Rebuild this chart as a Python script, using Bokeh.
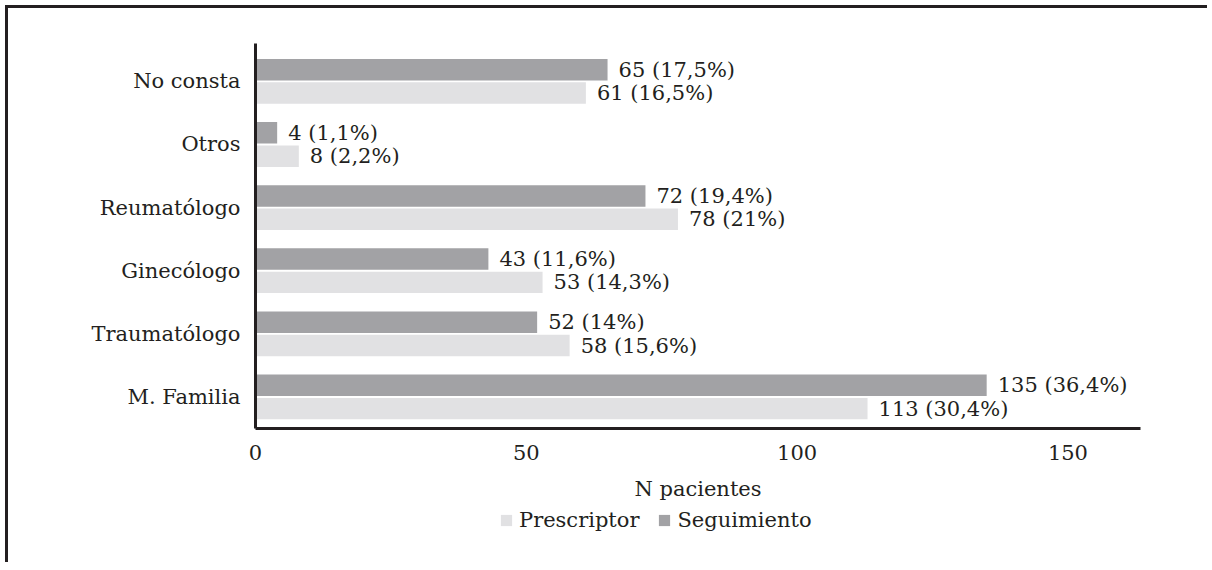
from bokeh.plotting import figure
from bokeh.models import ColumnDataSource, Range1d, FixedTicker, Legend, LegendItem
from bokeh.core.properties import value
from bokeh.embed import file_html
from bokeh.resources import INLINE

# Data (bottom to top)
categories = ["M. Familia", "Traumatólogo", "Ginecólogo", "Reumatólogo", "Otros", "No consta"]
prescriptor = [113, 58, 53, 78, 8, 61]
seguimiento = [135, 52, 43, 72, 4, 65]
prescriptor_pct = ["30,4%", "15,6%", "14,3%", "21%", "2,2%", "16,5%"]
seguimiento_pct = ["36,4%", "14%", "11,6%", "19,4%", "1,1%", "17,5%"]
series_names = ["Prescriptor", "Seguimiento"]
x_ticks = [0, 50, 100, 150]

FONT = "DejaVu Serif"
FS = "21px"
TXT = "#231f20"
DARK = "#a2a2a5"
LIGHT = "#e1e1e3"

idx = list(range(len(categories)))
off = 0.185
h = 0.34

src_p = ColumnDataSource(dict(
    y=[i - off for i in idx], v=prescriptor,
    lab=[f"{a} ({b})" for a, b in zip(prescriptor, prescriptor_pct)]))
src_s = ColumnDataSource(dict(
    y=[i + off for i in idx], v=seguimiento,
    lab=[f"{a} ({b})" for a, b in zip(seguimiento, seguimiento_pct)]))

W = 1202
ML = 247
FW = 885
MR = W - ML - FW
p = figure(width=W, height=495, output_backend="svg", toolbar_location=None,
           x_range=Range1d(0, 163.4), y_range=Range1d(-0.5, 5.6),
           min_border_left=ML, min_border_right=MR, min_border_top=35,
           min_border_bottom=72)
p.outline_line_color = None
p.grid.grid_line_color = None
p.background_fill_color = "white"
p.border_fill_color = "white"
p.styles = {"border-top": "3px solid #231f20", "border-left": "3px solid #231f20",
            "margin-left": "5px", "margin-top": "5px"}

p.hbar(y="y", right="v", left=0, height=h, source=src_s,
       fill_color=DARK, line_color=None)
p.hbar(y="y", right="v", left=0, height=h, source=src_p,
       fill_color=LIGHT, line_color=None)

for src in (src_s, src_p):
    p.text(x="v", y="y", text="lab", source=src, x_offset=11,
           text_baseline="middle", text_align="left",
           text_font=value(FONT), text_font_size=FS, text_color=TXT)

# axes
yax = p.yaxis[0]
yax.ticker = FixedTicker(ticks=idx)
yax.major_label_overrides = {i: c for i, c in zip(idx, categories)}
yax.axis_line_width = 3
yax.axis_line_color = TXT
yax.major_tick_line_color = None
yax.minor_tick_line_color = None
yax.major_label_standoff = 9
yax.major_label_text_font = FONT
yax.major_label_text_font_size = FS
yax.major_label_text_color = TXT

xax = p.xaxis[0]
xax.ticker = FixedTicker(ticks=x_ticks)
xax.axis_line_width = 3
xax.axis_line_color = TXT
xax.major_tick_line_color = None
xax.minor_tick_line_color = None
xax.major_label_standoff = 10
xax.major_label_text_font = FONT
xax.major_label_text_font_size = FS
xax.major_label_text_color = TXT
xax.axis_label = "N pacientes"
xax.axis_label_text_font = FONT
xax.axis_label_text_font_size = FS
xax.axis_label_text_font_style = "normal"
xax.axis_label_text_color = TXT
xax.axis_label_standoff = 14

# legend strip (separate root below the chart)
pl = figure(width=W, height=62, output_backend="svg", toolbar_location=None,
            x_range=Range1d(0, 1), y_range=Range1d(0, 1),
            x_axis_location=None, y_axis_location=None,
            min_border_left=ML, min_border_right=MR,
            min_border_top=0, min_border_bottom=0)
pl.outline_line_color = None
pl.grid.grid_line_color = None
pl.styles = {"border-left": "3px solid #231f20", "margin-left": "5px"}
lr_p = pl.hbar(y=[-5], right=[1], left=0, height=h, fill_color=LIGHT, line_color=None)
lr_s = pl.hbar(y=[-5], right=[1], left=0, height=h, fill_color=DARK, line_color=None)
legend = Legend(items=[LegendItem(label=series_names[0], renderers=[lr_p]),
                       LegendItem(label=series_names[1], renderers=[lr_s])],
                orientation="horizontal", location=(244, 30),
                glyph_width=14, glyph_height=14, label_text_font=FONT,
                label_text_font_size=FS, label_text_color=TXT,
                border_line_color=None, background_fill_alpha=0,
                spacing=18, padding=0, margin=0, label_standoff=6)
pl.add_layout(legend, "center")

open("out.html", "w").write(file_html([p, pl], INLINE))
